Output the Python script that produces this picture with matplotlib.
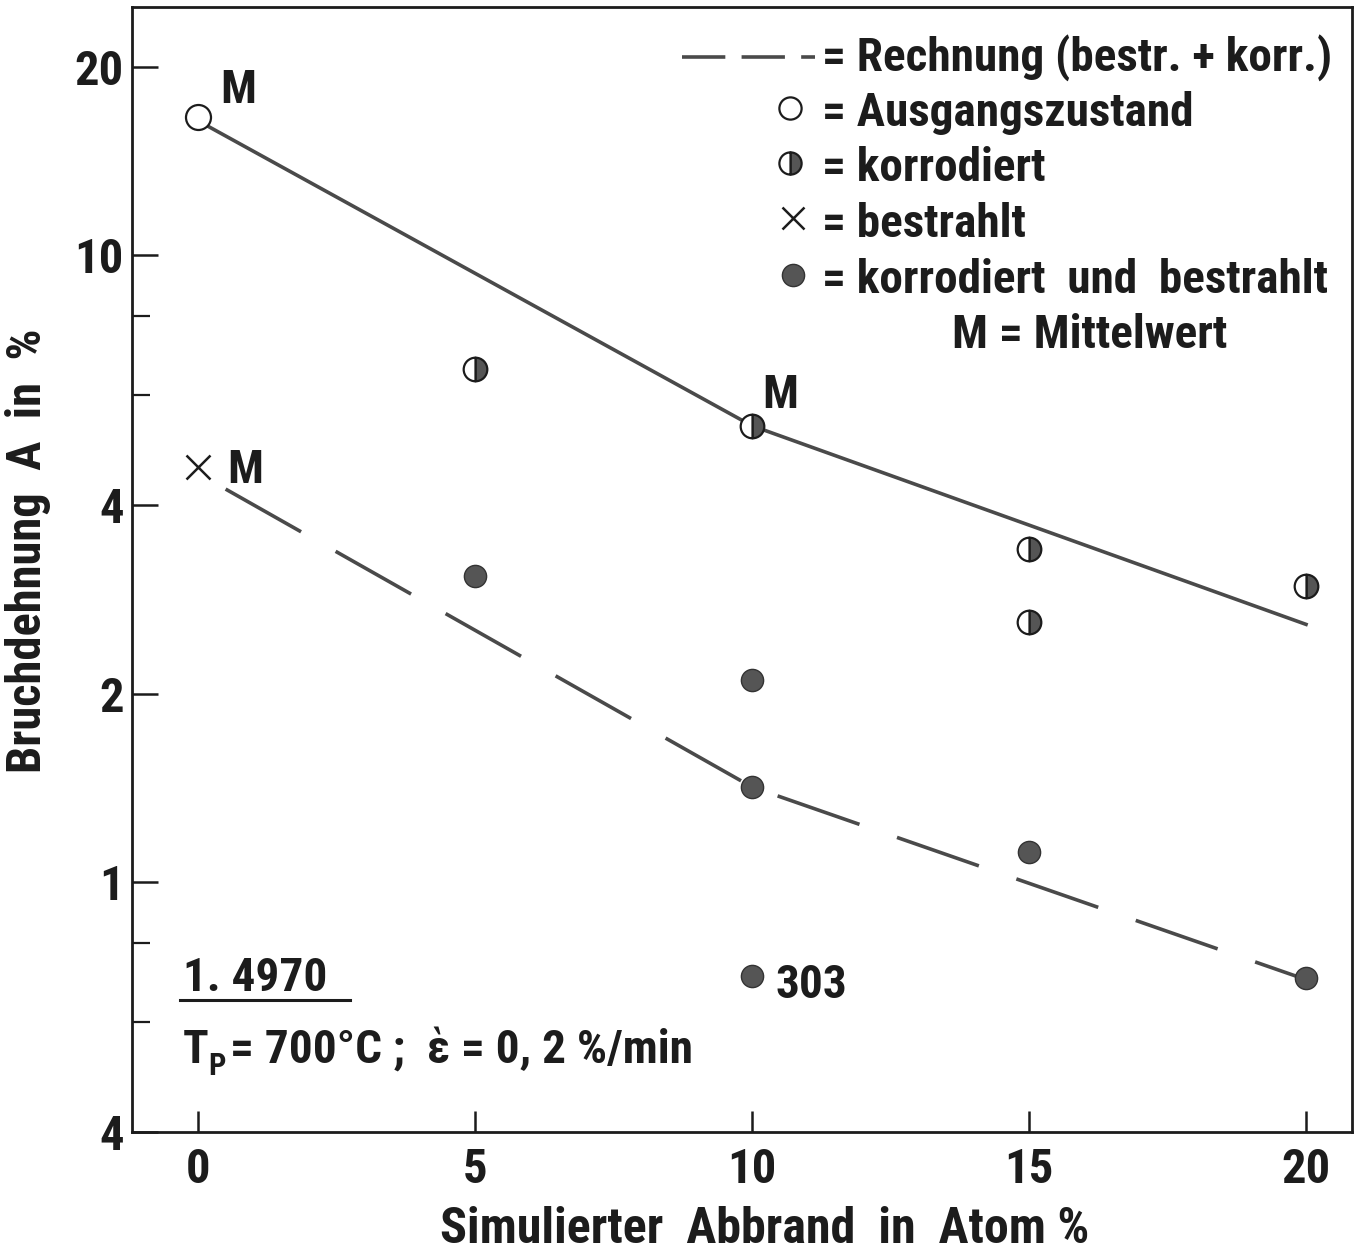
import matplotlib
matplotlib.use("Agg")
import matplotlib.pyplot as plt
from matplotlib.lines import Line2D
from matplotlib.ticker import NullFormatter

FAMILY = ['Roboto Condensed', 'Archivo Narrow', 'PT Sans Narrow',
          'Liberation Sans Narrow', 'DejaVu Sans']
plt.rcParams['font.family'] = FAMILY
plt.rcParams['font.weight'] = 'bold'

# ---------------- data ----------------
ausgang_x = [0]
ausgang_y = [16.6]

korr_x = [5, 10, 15, 15, 20]
korr_y = [6.6, 5.35, 3.4, 2.6, 2.97]

bestr_x = [0]
bestr_y = [4.6]

kb_x = [5, 10, 10, 10, 15, 20]
kb_y = [3.08, 2.1, 1.42, 0.71, 1.12, 0.705]

trend_x = [0, 10, 20]
trend_y = [16.4, 5.35, 2.58]

calc_x = [0.5, 10, 20]
calc_y = [4.24, 1.42, 0.70]

xticks = [0, 5, 10, 15, 20]
yticks_major = [20, 10, 4, 2, 1, 0.4]
ytick_labels = ['20', '10', '4', '2', '1', '4']
yticks_minor = [8, 6, 0.8, 0.6]

W, H = 1367, 1256
TXT = '#1c1c1c'
LINE = '#4a4a4a'
FILL = '#555555'
FS = 34

fig = plt.figure(figsize=(W / 100, H / 100), dpi=100)
ax = fig.add_axes([132 / W, 1 - 1132 / H, (1352 - 132) / W, (1132 - 7) / H])

ax.set_yscale('log')
ax.set_xlim(-1.19, 20.83)
ax.set_ylim(0.4, 24.9)

# lines
ax.plot(trend_x, trend_y, '-', color=LINE, lw=2.6, zorder=2)
ax.plot(calc_x, calc_y, color=LINE, lw=2.6, dashes=(24, 11), zorder=2)

# markers
ax.plot(ausgang_x, ausgang_y, 'o', ms=18, mfc='white', mec=TXT, mew=1.6, zorder=3)
ax.plot(korr_x, korr_y, 'o', ms=17, fillstyle='right', mfc=FILL,
        markerfacecoloralt='white', mec=TXT, mew=1.6, zorder=3, linestyle='none')
ax.plot(bestr_x, bestr_y, 'x', ms=17, mec=TXT, mew=1.8, zorder=3, linestyle='none')
ax.plot(kb_x, kb_y, 'o', ms=16, mfc=FILL, mec='#333333', mew=1.0, zorder=3,
        linestyle='none')

# M labels and 303
ann_kw = dict(textcoords='offset pixels', ha='left', va='baseline',
              fontsize=FS, color=TXT, fontweight='bold')
ax.annotate('M', (ausgang_x[0], ausgang_y[0]), xytext=(22, 14), **ann_kw)
ax.annotate('M', (korr_x[1], korr_y[1]), xytext=(10, 18), **ann_kw)
ax.annotate('M', (bestr_x[0], bestr_y[0]), xytext=(29, -16), **ann_kw)
ax.annotate('303', (kb_x[3], kb_y[3]), xytext=(24, -22), **ann_kw)

# ticks
ax.set_xticks(xticks)
ax.set_xticklabels([str(t) for t in xticks])
ax.set_yticks(yticks_major)
ax.set_yticklabels(ytick_labels)
ax.set_yticks(yticks_minor, minor=True)
ax.yaxis.set_minor_formatter(NullFormatter())
ax.tick_params(axis='both', which='major', direction='in', labelsize=35,
               labelcolor=TXT, width=1.8, color=TXT)
ax.tick_params(axis='x', which='major', length=15, pad=11)
ax.tick_params(axis='y', which='major', length=19, pad=6)
ax.tick_params(axis='y', which='minor', direction='in', length=13, width=1.6, color=TXT)
ax.tick_params(axis='x', which='minor', bottom=False)
for s in ax.spines.values():
    s.set_linewidth(2.0)
    s.set_color(TXT)

ax.set_xlabel('Simulierter  Abbrand  in  Atom %', fontsize=36, color=TXT,
              fontweight='bold')
ax.xaxis.set_label_coords(0.519, -0.066)
ax.set_ylabel('Bruchdehnung  A  in  %', fontsize=35, color=TXT,
              fontweight='bold')
ax.yaxis.set_label_coords(-0.066, 0.517)


def fx(x):
    return x / W


def fy(y):
    return 1 - y / H


# legend block
tkw = dict(fontsize=FS, color=TXT, fontweight='bold', ha='left', va='baseline')
fig.add_artist(Line2D([fx(682), fx(815)], [fy(57), fy(57)], color=LINE, lw=2.6,
                      dashes=(12, 4.5)))
fig.text(fx(822), fy(71), '= Rechnung (bestr. + korr.)', **tkw)

fig.add_artist(Line2D([fx(790)], [fy(108)], marker='o', ms=16, mfc='white',
                      mec=TXT, mew=1.6, linestyle='none'))
fig.text(fx(822), fy(126), '= Ausgangszustand', **tkw)

fig.add_artist(Line2D([fx(790)], [fy(163)], marker='o', ms=16, fillstyle='right',
                      mfc=FILL, markerfacecoloralt='white', mec=TXT, mew=1.6,
                      linestyle='none'))
fig.text(fx(822), fy(181), '= korrodiert', **tkw)

fig.add_artist(Line2D([fx(793)], [fy(218)], marker='x', ms=16, mec=TXT, mew=1.8,
                      linestyle='none'))
fig.text(fx(822), fy(237), '= bestrahlt', **tkw)

fig.add_artist(Line2D([fx(793)], [fy(275)], marker='o', ms=16, mfc=FILL,
                      mec='#333333', mew=1.0, linestyle='none'))
fig.text(fx(822), fy(293), '= korrodiert  und  bestrahlt', **tkw)

fig.text(fx(952), fy(348), 'M = Mittelwert', **tkw)

# material / conditions note
fig.text(fx(183), fy(991), '1. 4970', **tkw)
fig.add_artist(Line2D([fx(180), fx(350)], [fy(1000), fy(1000)], color=TXT, lw=2.2))
fig.text(fx(183), fy(1063), 'T', **tkw)
fig.text(fx(208), fy(1075), 'P', fontsize=22, color=TXT, fontweight='bold',
         ha='left', va='baseline')
fig.text(fx(230), fy(1063), '= 700°C ;  ὲ = 0, 2 %/min', **tkw)

fig.savefig('out.png', dpi=100, facecolor='white')
